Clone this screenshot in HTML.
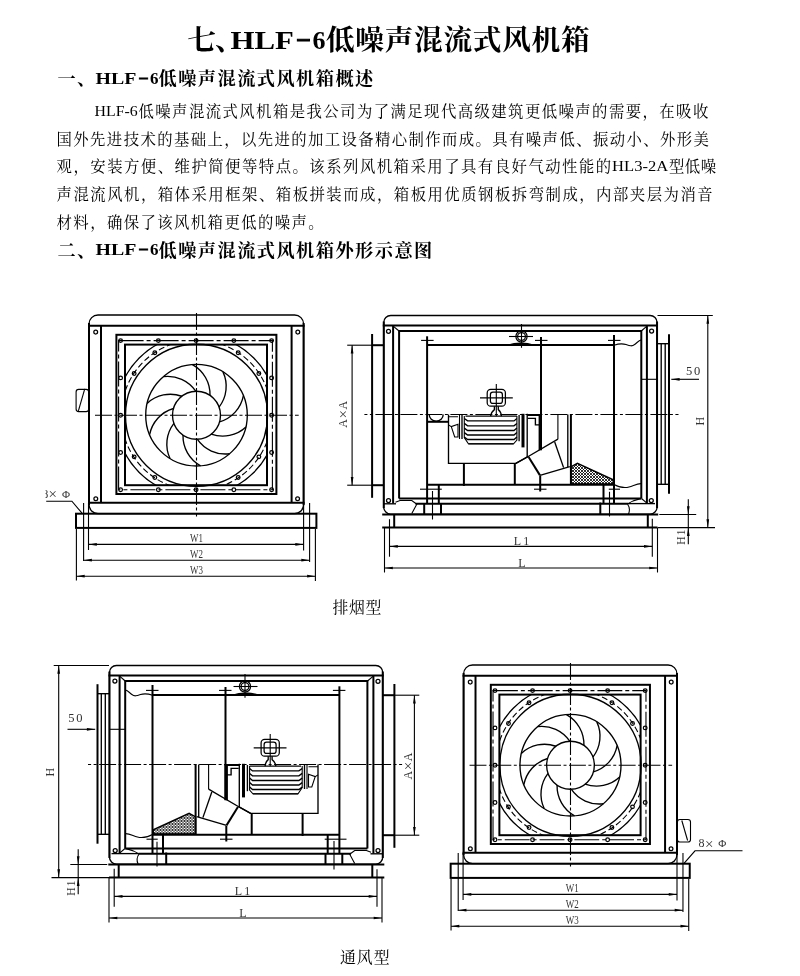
<!DOCTYPE html>
<html lang="zh-CN">
<head>
<meta charset="utf-8">
<title>七、HLF-6低噪声混流式风机箱</title>
<style>
html,body{margin:0;padding:0;background:#fff}
body{width:800px;height:976px;overflow:hidden;font-family:"Liberation Serif","Noto Serif CJK SC",serif}
svg{display:block;position:absolute;left:0;top:0;will-change:transform}
text{font-family:"Liberation Serif","Noto Serif CJK SC",serif;fill:#000}
.dw path,.dw rect,.dw circle{fill:none;stroke:#000}
.k{stroke-width:2}
.m{stroke-width:1.35}
.n{stroke-width:1.1}
.b{stroke-width:1.25}
.ah,.fl{fill:#000 !important;stroke:none !important}
.lb{fill:#333}
</style>
</head>
<body>
<svg width="800" height="976" viewBox="0 0 800 976">
<g class="t">
<g><text y="50.4" font-size="28.7" font-weight="bold"><tspan x="187.3">七</tspan><tspan x="215.1">、</tspan></text><text y="49.3" font-size="26" font-weight="bold"><tspan x="230.5" textLength="63.3" lengthAdjust="spacingAndGlyphs">HLF</tspan><tspan x="296.2" textLength="14.8" lengthAdjust="spacingAndGlyphs" stroke="#000" stroke-width="1.1">−</tspan><tspan x="312.4" textLength="13.0" lengthAdjust="spacingAndGlyphs">6</tspan></text><text x="325.9" y="50.4" font-size="28.7" font-weight="bold" letter-spacing="0.7">低噪声混流式风机箱</text></g>
<g><text y="85.3" font-size="18.2" font-weight="bold"><tspan x="57.5">一</tspan><tspan x="76.9">、</tspan></text><text y="83.7" font-size="16.5" font-weight="bold"><tspan x="95.6" textLength="40.8" lengthAdjust="spacingAndGlyphs">HLF</tspan><tspan x="138.2" textLength="10.4" lengthAdjust="spacingAndGlyphs" stroke="#000" stroke-width=".7">−</tspan><tspan x="150.0" textLength="8.5" lengthAdjust="spacingAndGlyphs">6</tspan></text><text x="158.5" y="85.3" font-size="18.2" font-weight="bold" letter-spacing="1.47">低噪声混流式风机箱概述</text></g>
<g><text x="94.6" y="115.7" font-size="15" textLength="43.1" lengthAdjust="spacingAndGlyphs">HLF-6</text><text x="138.5" y="116.95" font-size="15.36" letter-spacing="1.44">低噪声混流式风机箱是我公司为了满足现代高级建筑更低噪声的需要，在吸收</text></g>
<g><text x="56.6" y="144.67" font-size="15.36" letter-spacing="1.4">国外先进技术的基础上，以先进的加工设备精心制作而成。具有噪声低、振动小、外形美</text></g>
<g><text x="56.6" y="172.39" font-size="15.36" letter-spacing="1.49">观，安装方便、维护简便等特点。该系列风机箱采用了具有良好气动性能的</text><text x="612.1" y="171.1" font-size="15" textLength="56.1" lengthAdjust="spacingAndGlyphs">HL3-2A</text><text x="669" y="172.39" font-size="15.36" letter-spacing="0.5">型低噪</text></g>
<g><text x="56.6" y="200.11" font-size="15.36" letter-spacing="1.5">声混流风机，箱体采用框架、箱板拼装而成，箱板用优质钢板拆弯制成，内部夹层为消音</text></g>
<g><text x="56.6" y="227.83" font-size="15.36" letter-spacing="1.42">材料，确保了该风机箱更低的噪声。</text></g>
<g><text y="256.5" font-size="18.2" font-weight="bold"><tspan x="57.5">二</tspan><tspan x="76.9">、</tspan></text><text y="254.9" font-size="16.5" font-weight="bold"><tspan x="95.6" textLength="40.8" lengthAdjust="spacingAndGlyphs">HLF</tspan><tspan x="138.2" textLength="10.4" lengthAdjust="spacingAndGlyphs" stroke="#000" stroke-width=".7">−</tspan><tspan x="150.0" textLength="8.5" lengthAdjust="spacingAndGlyphs">6</tspan></text><text x="158.5" y="256.5" font-size="18.2" font-weight="bold" letter-spacing="1.47">低噪声混流式风机箱外形示意图</text></g>
<g><text x="332.6" y="613.4" font-size="15.9" letter-spacing="0.62">排烟型</text></g>
<g><text x="340" y="962.9" font-size="15.9" letter-spacing="0.93">通风型</text></g>
</g>
<defs><clipPath id="fclip"><rect x="125" y="344.6" width="142" height="140.6"/></clipPath>
<pattern id="hatch" width="3" height="3" patternUnits="userSpaceOnUse"><path d="M0 0L3 3M3 0L0 3" stroke="#000" stroke-width=".8"/></pattern>
<g id="front" class="dw"><rect class="m" x="89" y="315" width="214.6" height="198.6" rx="9" ry="9"/><path class="k" d="M89 323L89 505"/><path class="k" d="M303.6 323L303.6 505"/><path class="k" d="M88 325.8L304.6 325.8"/><path class="k" d="M88 502.7L304.6 502.7"/><path class="k" d="M101 325.8L101 502.7"/><path class="k" d="M291.6 325.8L291.6 502.7"/><circle class="b" cx="95.7" cy="332.1" r="1.9"/><circle class="b" cx="297.8" cy="332.1" r="1.9"/><circle class="b" cx="95.8" cy="498.7" r="1.9"/><circle class="b" cx="297.6" cy="498.7" r="1.9"/><rect class="k" x="116.4" y="334.8" width="160" height="159.2"/><rect class="k" x="125" y="344.6" width="142" height="140.6"/><rect class="n" x="118.6" y="340.6" width="153.8" height="149.2" stroke-dasharray="25 3 4 3"/><circle class="b" cx="120.6" cy="340.6" r="1.85"/><circle class="b" cx="120.6" cy="377.875" r="1.85"/><circle class="b" cx="120.6" cy="415.15" r="1.85"/><circle class="b" cx="120.6" cy="452.425" r="1.85"/><circle class="b" cx="120.6" cy="489.7" r="1.85"/><circle class="b" cx="158.35" cy="340.6" r="1.85"/><circle class="b" cx="158.35" cy="489.7" r="1.85"/><circle class="b" cx="196.1" cy="340.6" r="1.85"/><circle class="b" cx="196.1" cy="489.7" r="1.85"/><circle class="b" cx="233.85" cy="340.6" r="1.85"/><circle class="b" cx="233.85" cy="489.7" r="1.85"/><circle class="b" cx="271.6" cy="340.6" r="1.85"/><circle class="b" cx="271.6" cy="377.875" r="1.85"/><circle class="b" cx="271.6" cy="415.15" r="1.85"/><circle class="b" cx="271.6" cy="452.425" r="1.85"/><circle class="b" cx="271.6" cy="489.7" r="1.85"/><g clip-path="url(#fclip)"><circle class="m" cx="196.5" cy="415.2" r="81"/><circle class="n" cx="196.5" cy="415.2" r="75.3" stroke-dasharray="6 3"/><circle class="b" cx="258.86" cy="456.868" r="1.85"/><circle class="b" cx="238.168" cy="477.56" r="1.85"/><circle class="b" cx="154.832" cy="477.56" r="1.85"/><circle class="b" cx="134.14" cy="456.868" r="1.85"/><circle class="b" cx="134.14" cy="373.532" r="1.85"/><circle class="b" cx="154.832" cy="352.84" r="1.85"/><circle class="b" cx="238.168" cy="352.84" r="1.85"/><circle class="b" cx="258.86" cy="373.532" r="1.85"/></g><circle class="m" cx="196.5" cy="415.2" r="71"/><circle class="m" cx="196.5" cy="415.2" r="50.8"/><circle class="m" cx="196.5" cy="415.2" r="24"/><path class="m" d="M209.99 395.35A34 34 0 0 0 192.43 364.56"/><path class="m" d="M219.08 407.07A34 34 0 0 0 222.97 371.84"/><path class="m" d="M219.55 421.90A34 34 0 0 0 243.40 395.68"/><path class="m" d="M211.21 434.16A34 34 0 0 0 245.92 426.97"/><path class="m" d="M197.25 439.19A34 34 0 0 0 229.56 453.77"/><path class="m" d="M183.01 435.05A34 34 0 0 0 200.57 465.84"/><path class="m" d="M173.92 423.33A34 34 0 0 0 170.03 458.56"/><path class="m" d="M173.45 408.50A34 34 0 0 0 149.60 434.72"/><path class="m" d="M181.79 396.24A34 34 0 0 0 147.08 403.43"/><path class="m" d="M195.75 391.21A34 34 0 0 0 163.44 376.63"/><path class="n" d="M95 415.2H298.7" stroke-dasharray="17 2.5 3 2.5"/><path class="n" d="M196.5 313V516.6" stroke-dasharray="17 2.5 3 2.5"/><rect class="k" x="76" y="513.7" width="240.4" height="14.2"/></g>
<g id="side" class="dw"><rect class="m" x="383.75" y="315.5" width="273.3" height="198.6" rx="7" ry="7"/><path class="k" d="M383.75 321.5L383.75 508"/><path class="k" d="M657.05 321.5L657.05 508"/><path class="k" d="M382.8 325.6L658 325.6"/><path class="k" d="M382.2 514.6L658.2 514.6"/><path class="k" d="M382.2 527.6L657.5 527.6"/><path class="k" d="M393.1 325.6L393.1 503.5"/><path class="k" d="M646.9 325.6L646.9 503.5"/><path class="k" d="M399.1 498.5V331H641.3V498.5"/><path class="k" d="M399.1 498.5L641.3 498.5"/><path class="n" d="M393.5 326.3L399 331"/><path class="n" d="M646.6 326.3L641.3 331"/><path class="n" d="M641.5 498.5L647.2 503.3"/><circle class="b" cx="388.5" cy="331.3" r="2"/><circle class="b" cx="651.6" cy="331" r="2"/><circle class="b" cx="388.5" cy="500.5" r="2"/><circle class="b" cx="651.3" cy="500.5" r="2"/><path class="k" d="M415.5 503.8L628 503.8"/><path class="m" d="M384 503.8L396 503.8"/><path class="m" d="M628 503.6L655 503.6"/><path class="n" d="M395.5 502.3L400 500.5H411.8L416.8 504.2L411.8 513.5"/><path class="n" d="M627.6 504.2C630 507.5 630 510.5 628.4 514.3"/><path class="n" d="M627.6 504C633 500 637 499.5 641 498.6"/><path class="k" d="M372.1 334L372.1 497.8"/><path class="k" d="M372.1 345.2L383.8 345.2"/><path class="k" d="M372.1 485.2L383.8 485.2"/><path class="n" d="M347.2 345.2L372.1 345.2"/><path class="n" d="M347.2 485.2L372.1 485.2"/><path class="n" d="M352.1 345.2L352.1 485.2"/><path class="ah" d="M352.1 345.2L353.45 353.50L350.75 353.50z"/><path class="ah" d="M352.1 485.2L350.75 476.90L353.45 476.90z"/><path class="m" d="M661.2 343.7L661.2 484.3"/><path class="m" d="M665.2 343.7L665.2 484.3"/><path class="k" d="M669 334.2L669 493.7"/><path class="m" d="M657 343.7L669 343.7"/><path class="m" d="M657 484.3L669 484.3"/><path class="n" d="M641.3 379.3L657 379.3"/><path class="k" d="M427.1 336.3L427.1 503.8"/><path class="k" d="M541 337L541 450"/><path class="k" d="M614 335L614 503"/><path class="n" d="M421.1 340.4L433.6 340.4"/><path class="n" d="M535 340.4L547.5 340.4"/><path class="n" d="M608 340.4L620.5 340.4"/><path class="k" d="M427.1 345L614 345"/><path class="n" d="M614 345.2C619 343.6 622 343.2 626 344.6S632 346.6 635 344.2S639 340.5 641 340"/><path class="k" d="M427.1 484.7L614 484.7"/><path class="n" d="M614 484.4C618 486.5 624 488.5 629 487S637 483.5 641 483.6"/><path class="n" d="M420 489.2L441.8 489.2"/><path class="n" d="M534 489.2L546.5 489.2"/><path class="k" d="M540.2 476L540.2 491.5"/><path class="n" d="M608.8 489.2L620 489.2"/><path class="n" d="M432.5 491L432.5 519.5"/><path class="n" d="M609.5 491.8L609.5 516.5"/><path class="k" d="M438.8 485L438.8 503.8"/><path class="k" d="M424.2 503.8L424.2 514.6"/><path class="k" d="M441 503.8L441 514.6"/><path class="k" d="M603.5 485L603.5 503.8"/><path class="k" d="M600.3 502.5L600.3 514.6"/><path class="k" d="M394.2 514.6L394.2 527.6"/><path class="k" d="M647.8 514.6L647.8 527.6"/><circle class="b" cx="521.5" cy="336.5" r="5.6"/><circle class="b" cx="521.5" cy="336.5" r="3.9"/><path class="n" d="M509 336.5L533 336.5"/><path class="n" d="M521.5 324L521.5 347.8"/><path class="fl" d="M508.5 344.6C514 341.8 528 341.8 533 344.6z"/><path class="n" d="M364.4 414.5H678.5" stroke-dasharray="17 2.5 3 2.5" stroke-dashoffset="14"/><path class="m" d="M448.5 414.5V463.3H516L527.8 456.6"/><path class="k" d="M463.9 463.3L463.9 486"/><path class="k" d="M514.8 463.3L514.8 484.7"/><path class="n" d="M464.3 416.1V437.5L468.4 443.8H513.6L516.9 440V416.1"/><path class="m" d="M465.5 416.1L516.9 416.1"/><path class="m" d="M464.3 418.5L467.6 420.9H514L516.9 418.5"/><path class="m" d="M464.3 423.4L467.6 425.8H514L516.9 423.4"/><path class="m" d="M464.3 428.1L467.6 430.5H514L516.9 428.1"/><path class="m" d="M464.3 432.6L467.6 435H514L516.9 432.6"/><path class="m" d="M464.3 437.1L467.6 439.5H514L516.9 437.1"/><path class="m" d="M468.4 443.8L513.6 443.8"/><path class="n" d="M459.5 415L459.5 439"/><path class="m" d="M462 415L462 439"/><path class="n" d="M448.5 416.8H458M448.5 424.9L451.3 426.6L458 424.3V437H454.7L451.3 426.6"/><path class="m" d="M519.1 415L519.1 441.2"/><rect class="fl" x="521.5" y="413.8" width="3" height="33.6"/><path class="m" d="M527.2 413.8L527.2 457.2"/><rect class="fl" x="527.2" y="414" width="14.6" height="2"/><path class="m" d="M527.8 418.4H535.4V424.8H539.5"/><rect class="fl" x="538.6" y="414.5" width="3.4" height="35.8"/><rect class="b" x="487.2" y="389.4" width="18.2" height="16.8" rx="3.5"/><rect class="b" x="490.4" y="392.2" width="12" height="11.2" rx="2.5"/><path class="n" d="M480 397.9L512.8 397.9"/><path class="n" d="M496.3 384L496.3 416.3"/><path class="m" d="M494.4 406.2V409.6C492.5 411 491 413.5 490.6 416.2M498.3 406.2V409.6C500.2 411 501.2 413.5 501.4 416.2"/><path class="n" d="M557.9 414.5L557.9 439.2"/><path class="m" d="M557.9 439.2L527.4 457L515.8 463.3"/><path class="k" d="M528.6 457L540 475.4"/><path class="m" d="M554.7 442L563.6 467.6"/><path class="m" d="M540 475.4L569.8 466.7"/><path class="m" d="M567.8 414.5L567.8 466.9"/><path class="k" d="M570.9 414.5L570.9 484.5"/><path class="m" d="M570.9 466.9L577.4 463.3L613.2 479.8V484H570.9z" style="fill:url(#hatch)"/><path class="n" d="M389.5 519.2L389.5 556.7"/><path class="n" d="M652.3 518.8L652.3 556.7"/><path class="n" d="M384.5 528L384.5 572.5"/><path class="n" d="M657.5 528L657.5 572.5"/><path class="n" d="M389.5 546.4L652.3 546.4"/><path class="ah" d="M389.5 546.4L397.80 545.05L397.80 547.75z"/><path class="ah" d="M652.3 546.4L644.00 547.75L644.00 545.05z"/><path class="n" d="M384.5 568L657.5 568"/><path class="ah" d="M384.5 568L392.80 566.65L392.80 569.35z"/><path class="ah" d="M657.5 568L649.20 569.35L649.20 566.65z"/><path class="n" d="M657.5 315.5L712.8 315.5"/><path class="n" d="M657.5 527.6L715 527.6"/><path class="n" d="M707.8 315.5L707.8 527.6"/><path class="ah" d="M707.8 315.5L709.15 323.80L706.45 323.80z"/><path class="ah" d="M707.8 527.6L706.45 519.30L709.15 519.30z"/><path class="n" d="M659.3 514.5L696.2 514.5"/><path class="n" d="M688.3 499.3L688.3 544.3"/><path class="ah" d="M688.3 514.5L686.95 506.20L689.65 506.20z"/><path class="ah" d="M688.3 527.6L689.65 535.90L686.95 535.90z"/><path class="n" d="M671.3 379.3L699 379.3"/><path class="ah" d="M671.3 379.3L679.60 377.95L679.60 380.65z"/></g>
</defs>
<g class="dw">
<use href="#front"/>
<rect class="n" x="76.1" y="389.4" width="12.6" height="22.2" rx="2.6"/>
<path class="n" d="M84.75 388.9L78.4 410.9"/>
<path class="n" d="M88.5 503L88.5 550"/>
<path class="n" d="M83.6 503L83.6 561"/>
<path class="n" d="M76.4 529L76.4 580.4"/>
<path class="n" d="M303.6 503L303.6 550.4"/>
<path class="n" d="M309.6 503L309.6 562"/>
<path class="n" d="M315.4 529L315.4 581"/>
<path class="n" d="M88.5 544.4L303.6 544.4"/><path class="ah" d="M88.5 544.4L96.80 543.05L96.80 545.75z"/><path class="ah" d="M303.6 544.4L295.30 545.75L295.30 543.05z"/>
<path class="n" d="M83.6 560.2L309.6 560.2"/><path class="ah" d="M83.6 560.2L91.90 558.85L91.90 561.55z"/><path class="ah" d="M309.6 560.2L301.30 561.55L301.30 558.85z"/>
<path class="n" d="M76.4 576.2L315.4 576.2"/><path class="ah" d="M76.4 576.2L84.70 574.85L84.70 577.55z"/><path class="ah" d="M315.4 576.2L307.10 577.55L307.10 574.85z"/>
<path class="n" d="M46.2 501.2H71.9L82 513.2"/>
<use href="#side"/>
<path class="m" d="M429.2 414.5A7 6.6 0 0 0 443.2 414.5"/>
<path class="k" d="M427.1 421.8L448.5 421.8"/>
<use href="#side" transform="translate(766.5,350) scale(-1,1)"/>
<g transform="translate(373.4,350) translate(303.6,0) scale(0.9945,1) translate(-303.6,0)">
<use href="#front"/>
<path class="n" d="M88.5 503L88.5 550"/>
<path class="n" d="M83.6 503L83.6 561"/>
<path class="n" d="M76.4 529L76.4 580.4"/>
<path class="n" d="M303.6 503L303.6 550.4"/>
<path class="n" d="M309.6 503L309.6 562"/>
<path class="n" d="M315.4 529L315.4 581"/>
<path class="n" d="M88.5 544.4L303.6 544.4"/><path class="ah" d="M88.5 544.4L96.80 543.05L96.80 545.75z"/><path class="ah" d="M303.6 544.4L295.30 545.75L295.30 543.05z"/>
<path class="n" d="M83.6 560.2L309.6 560.2"/><path class="ah" d="M83.6 560.2L91.90 558.85L91.90 561.55z"/><path class="ah" d="M309.6 560.2L301.30 561.55L301.30 558.85z"/>
<path class="n" d="M76.4 576.2L315.4 576.2"/><path class="ah" d="M76.4 576.2L84.70 574.85L84.70 577.55z"/><path class="ah" d="M315.4 576.2L307.10 577.55L307.10 574.85z"/>
</g>
<rect class="n" x="677.4" y="819.5" width="13.1" height="22.5" rx="2.6"/>
<path class="n" d="M681.8 820.5L687.6 840.5"/>
<path class="n" d="M683.8 863.7L695 850.8H742.5"/>
</g>
<g>
<text class="lb" x="189.9" y="542.4" font-size="11.5" textLength="13" lengthAdjust="spacingAndGlyphs">W1</text>
<text class="lb" x="189.9" y="558.4" font-size="11.5" textLength="13" lengthAdjust="spacingAndGlyphs">W2</text>
<text class="lb" x="189.9" y="574.4" font-size="11.5" textLength="13" lengthAdjust="spacingAndGlyphs">W3</text>
<text class="lb" x="565.8" y="892.4" font-size="11.5" textLength="13" lengthAdjust="spacingAndGlyphs">W1</text>
<text class="lb" x="565.8" y="908.4" font-size="11.5" textLength="13" lengthAdjust="spacingAndGlyphs">W2</text>
<text class="lb" x="565.8" y="924.4" font-size="11.5" textLength="13" lengthAdjust="spacingAndGlyphs">W3</text>
<clipPath id="c8"><rect x="45.4" y="484" width="40" height="18"/></clipPath>
<g clip-path="url(#c8)"><text class="lb" x="42.3" y="497.6" font-size="12">8<tspan font-size="15" dx="0.3" dy="1.4">×</tspan><tspan font-size="11" dx="5" dy="-1.4">Φ</tspan></text></g>
<text class="lb" x="698.6" y="847.2" font-size="12">8<tspan font-size="15" dx="0.3" dy="1.4">×</tspan><tspan font-size="11" dx="5" dy="-1.4">Φ</tspan></text>
<text class="lb" x="522.5" y="545" font-size="12" text-anchor="middle" letter-spacing="2">L1</text>
<text class="lb" x="522.5" y="567.2" font-size="12" text-anchor="middle" letter-spacing="1.2">L</text>
<text class="lb" x="243.5" y="895" font-size="12" text-anchor="middle" letter-spacing="2">L1</text>
<text class="lb" x="243.5" y="917.2" font-size="12" text-anchor="middle" letter-spacing="1.2">L</text>
<text class="lb" x="694" y="374.9" font-size="12.5" text-anchor="middle" letter-spacing="1.8">50</text>
<text class="lb" x="76.3" y="721.6" font-size="12.5" text-anchor="middle" letter-spacing="1.8">50</text>
<text class="lb" x="347.3" y="414" font-size="12" text-anchor="middle" letter-spacing="0.6" transform="rotate(-90 347.3 414)">A<tspan font-size="15" dy="0.9">×</tspan><tspan dy="-0.9">A</tspan></text>
<text class="lb" x="412" y="765.8" font-size="12" text-anchor="middle" letter-spacing="0.6" transform="rotate(-90 412 765.8)">A<tspan font-size="15" dy="0.9">×</tspan><tspan dy="-0.9">A</tspan></text>
<text class="lb" x="704.3" y="420.5" font-size="12" text-anchor="middle" letter-spacing="1.2" transform="rotate(-90 704.3 420.5)">H</text>
<text class="lb" x="54.3" y="771.5" font-size="12" text-anchor="middle" letter-spacing="1.2" transform="rotate(-90 54.3 771.5)">H</text>
<text class="lb" x="684.6" y="536.6" font-size="11.5" text-anchor="middle" letter-spacing="1.2" transform="rotate(-90 684.6 536.6)">H1</text>
<text class="lb" x="74.6" y="887.5" font-size="11.5" text-anchor="middle" letter-spacing="1.2" transform="rotate(-90 74.6 887.5)">H1</text>
</g>
</svg>
</body>
</html>
